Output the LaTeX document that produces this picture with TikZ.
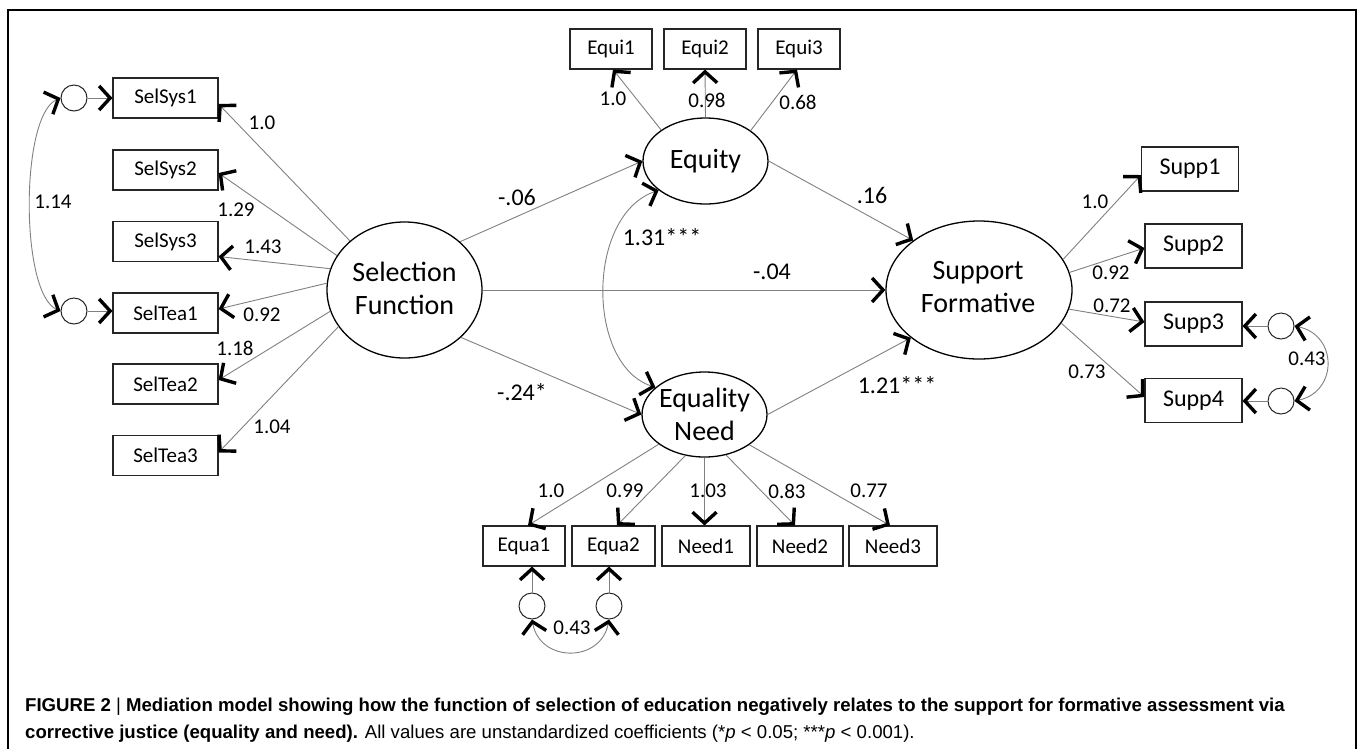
\documentclass[tikz,border=0pt]{standalone}
\usepackage{fontspec}
\setmainfont{Carlito}
\newfontfamily\capfont{Liberation Sans}
\usetikzlibrary{arrows.meta,shapes.geometric}
\begin{document}
\begin{tikzpicture}[x=1pt,y=-1pt,
  cline/.style={draw=black!50, line width=0.9pt},
  arr/.style={cline, -{Straight Barb[length=11pt,width=24pt,line width=3.4pt,color=black]}},
  dbl/.style={cline, {Straight Barb[length=11pt,width=24pt,line width=3.4pt,color=black]}-{Straight Barb[length=11pt,width=24pt,line width=3.4pt,color=black]}},
  obs/.style={rectangle, draw=black!85, line width=1.1pt, inner sep=0pt, minimum height=40pt, font=\fontsize{21}{25}\selectfont},
  sobs/.style={rectangle, draw=black!85, line width=1.1pt, inner sep=0pt, minimum width=97pt, minimum height=44pt, font=\fontsize{24}{28}\selectfont},
  lat/.style={ellipse, draw=black, line width=1.3pt, inner sep=0pt},
  ltxt/.style={inner sep=0pt, align=center, font=\fontsize{28}{33}\selectfont},
  errc/.style={circle, draw=black!85, line width=1pt, minimum size=26pt, inner sep=0pt},
  lbl/.style={inner sep=0pt, font=\fontsize{21}{25}\selectfont},
  plbl/.style={inner sep=0pt, font=\fontsize{24}{28}\selectfont}]
\useasboundingbox (0,0) rectangle (1359,748);
% frame
\draw[line width=2.6pt] (8,760) -- (8,10) -- (1356,10) -- (1356,760);

% latent variables
\node[lat, minimum width=155pt, minimum height=136pt] (SF) at (404.5,290) {};
\node[ltxt] (SFt) at (404.5,288) {Selection\\Function};
\node[lat, minimum width=125pt, minimum height=86pt] (EQ) at (705.5,161) {};
\node[ltxt] (EQt) at (705.5,161) {Equity};
\node[lat, minimum width=125pt, minimum height=85pt] (EN) at (704.5,414.5) {};
\node[ltxt] (ENt) at (704.5,414) {Equality\\Need};
\node[lat, minimum width=186pt, minimum height=138pt] (SUP) at (979,290) {};
\node[ltxt] (SUPt) at (978,287) {Support\\Formative};

% left indicators
\node[obs, minimum width=105pt] (SS1) at (165.5,98) {SelSys1};
\node[obs, minimum width=105pt] (SS2) at (165.5,170) {SelSys2};
\node[obs, minimum width=105pt] (SS3) at (165.5,241.5) {SelSys3};
\node[obs, minimum width=105pt] (ST1) at (165.5,313) {SelTea1};
\node[obs, minimum width=105pt] (ST2) at (165.5,384) {SelTea2};
\node[obs, minimum width=105pt] (ST3) at (165.5,455.5) {SelTea3};
\node[errc] (eL1) at (74,98) {};
\node[errc] (eL2) at (74,311) {};

% top indicators
\node[obs, minimum width=82pt] (E1) at (611,49) {Equi1};
\node[obs, minimum width=82pt] (E2) at (705,49) {Equi2};
\node[obs, minimum width=82pt] (E3) at (799,49) {Equi3};

% bottom indicators
\node[obs, minimum width=82pt] (A1) at (524,546) {Equa1};
\node[obs, minimum width=83pt] (A2) at (613.5,546) {Equa2};
\node[obs, minimum width=88pt] (N1) at (706,546) {Need1};
\node[obs, minimum width=86pt] (N2) at (800,546) {Need2};
\node[obs, minimum width=88pt] (N3) at (893,546) {Need3};
\node[errc] (eB1) at (532,606) {};
\node[errc] (eB2) at (609,606) {};

% right indicators
\node[sobs] (S1) at (1190,169) {Supp1};
\node[sobs] (S2) at (1193.5,246) {Supp2};
\node[sobs] (S3) at (1193.5,324) {Supp3};
\node[sobs] (S4) at (1193.5,400.5) {Supp4};
\node[errc] (eR1) at (1281,326) {};
\node[errc] (eR2) at (1281,401) {};

% left loadings
\draw[arr] (SF.138.2) -- ([yshift=-6pt]SS1.east);
\draw[arr] (SF.153) -- ([yshift=-3pt]SS2.east);
\draw[arr] (SF.164.5) -- ([yshift=-15pt]SS3.east);
\draw[arr] (SF.175.5) -- ([yshift=4pt]ST1.east);
\draw[arr] (SF.196.6) -- ([yshift=4pt]ST2.east);
\draw[arr] (SF.209.6) -- ([yshift=3pt]ST3.east);
\node[lbl] (l1) at (262,123) {1.0};
\node[lbl] (l2) at (236,210) {1.29};
\node[lbl] (l3) at (263,247) {1.43};
\node[lbl] (l4) at (262,315) {0.92};
\node[lbl] (l5) at (235,348) {1.18};
\node[lbl] (l6) at (272,427) {1.04};
\draw[arr] (eL1.east) -- (eL1.east -| SS1.west);
\draw[arr] (eL2.east) -- (eL2.east -| ST1.west);
\draw[dbl] (eL1.west) .. controls (20,115) and (20,294) .. (eL2.west);
\node[lbl] (l7) at (53,202) {1.14};

% top loadings
\draw[arr] (EQ.145.7) -- ([xshift=2pt]E1.south);
\draw[arr] (EQ.north) -- (E2.south);
\draw[arr] (EQ.34.9) -- ([xshift=-2pt]E3.south);
\node[lbl] (l8) at (613,99) {1.0};
\node[lbl] (l9) at (707,100) {0.98};
\node[lbl] (l10) at (798,102) {0.68};

% structural paths
\draw[arr] (SF.41.8) -- (EQ.west);
\draw[arr] (SF.east) -- (SUP.west);
\draw[arr] (SF.320.4) -- (EN.west);
\draw[arr] (EQ.east) -- (SUP.143);
\draw[arr] (EN.east) -- (SUP.215.6);
\draw[dbl] (EQ.212) .. controls (586,215) and (586,365) .. (EN.151);
\node[plbl] (p1) at (517,197) {-.06};
\node[plbl] (p2) at (872,195) {.16};
\node[plbl] (p3) at (772,272) {-.04};
\node[plbl] (p4) at (662,237) {1.31***};
\node[plbl] (p5) at (522,392) {-.24*};
\node[plbl] (p6) at (897,385) {1.21***};

% bottom loadings
\draw[arr] (EN.213.3) -- ([xshift=4pt]A1.north);
\draw[arr] (EN.245.5) -- ([xshift=3.5pt]A2.north);
\draw[arr] (EN.south) -- (EN.south |- N1.north);
\draw[arr] (EN.298) -- ([xshift=-5pt]N2.north);
\draw[arr] (EN.326.2) -- ([xshift=-3pt]N3.north);
\node[lbl] (l11) at (551,491) {1.0};
\node[lbl] (l12) at (625,491) {0.99};
\node[lbl] (l13) at (708,491) {1.03};
\node[lbl] (l14) at (787,491) {0.83};
\node[lbl] (l15) at (869,491) {0.77};
\draw[arr] (eB1.north) -- (eB1.north |- A1.south);
\draw[arr] (eB2.north) -- (eB2.north |- A2.south);
\draw[dbl] (eB1.south) .. controls (540,663) and (601,663) .. (eB2.south);
\node[lbl] (l16) at (572,628) {0.43};

% right loadings
\draw[arr] (SUP.20.9) -- ([yshift=-6pt]S1.west);
\draw[arr] (SUP.11.2) -- ([yshift=-2pt]S2.west);
\draw[arr] (SUP.348.8) -- ([yshift=2pt]S3.west);
\draw[arr] (SUP.338.6) -- ([yshift=3.5pt]S4.west);
\node[lbl] (l17) at (1095,202) {1.0};
\node[lbl] (l18) at (1111,273) {0.92};
\node[lbl] (l19) at (1112,306) {0.72};
\node[lbl] (l20) at (1087,372) {0.73};
\draw[arr] (eR1.west) -- (eR1.west -| S3.east);
\draw[arr] (eR2.west) -- (eR2.west -| S4.east);
\draw[dbl] (eR1.east) .. controls (1338,335) and (1338,392) .. (eR2.east);
\node[lbl] (l21) at (1307,359) {0.43};

% caption
\node[anchor=base west, inner sep=0pt, font=\capfont\fontsize{18.6}{22}\selectfont] (cap1) at (25,711)
  {\bfseries FIGURE 2 {\mdseries|} Mediation model showing how the function of selection of education negatively relates to the support for formative assessment via};
\node[anchor=base west, inner sep=0pt, font=\capfont\fontsize{18.6}{22}\selectfont] (cap2) at (25,738)
  {{\bfseries corrective justice (equality and need).} All values are unstandardized coefficients (*\textit{p} < 0.05; ***\textit{p} < 0.001).};
\end{tikzpicture}
\end{document}
